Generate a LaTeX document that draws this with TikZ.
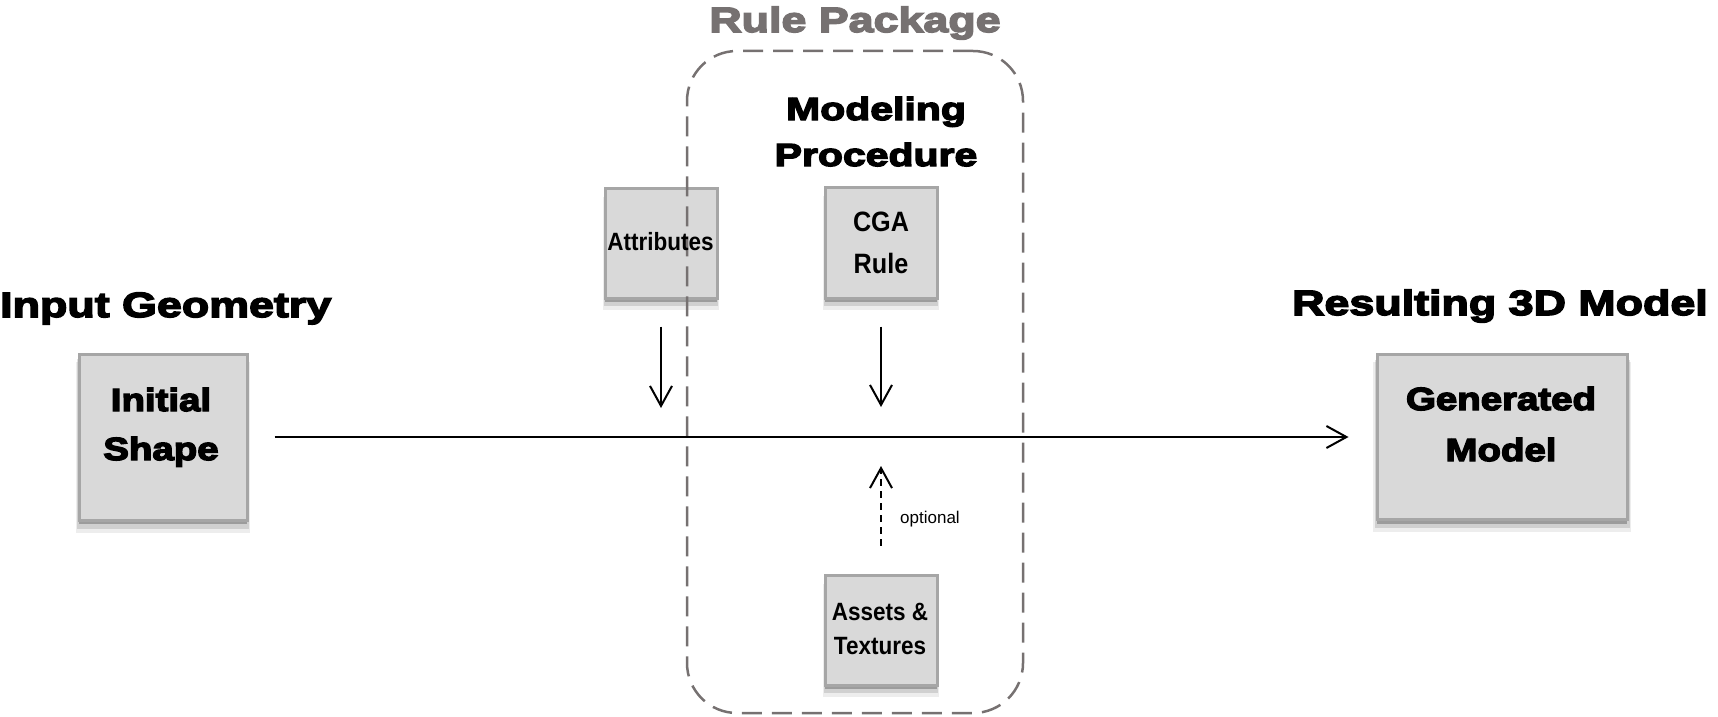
\documentclass[tikz,border=0pt]{standalone}
\usepackage{fontspec}
\setmainfont{Liberation Sans}
\newfontfamily\headfont[FakeStretch=1.28,FakeBold=4.5]{Liberation Sans Bold}
\newfontfamily\boxheadfont[FakeStretch=1.2,FakeBold=4.5]{Liberation Sans Bold}
\newfontfamily\boxfont[FakeStretch=0.9]{Liberation Sans Bold}
\usetikzlibrary{arrows.meta,shadows}
\definecolor{boxfill}{HTML}{D9D9D9}
\definecolor{boxline}{HTML}{A6A6A6}
\definecolor{pkggray}{HTML}{767171}
\begin{document}
\begin{tikzpicture}[x=1pt,y=-1pt,
  box/.style={draw=boxline, line width=3pt, fill=boxfill, inner sep=0pt,
    drop shadow={shadow xshift=0pt, shadow yshift=-10pt, shadow scale=1.03, opacity=0.07, fill=black},
    drop shadow={shadow xshift=0pt, shadow yshift=-7pt, shadow scale=1.02, opacity=0.12, fill=black},
    drop shadow={shadow xshift=0pt, shadow yshift=-4pt, shadow scale=1.0, opacity=0.25, fill=black}},
  head/.style={font=\headfont\fontsize{35}{42}\selectfont, inner sep=0pt},
  bighead/.style={font=\headfont\fontsize{32}{46}\selectfont, inner sep=0pt, align=center},
  bigtxt/.style={font=\boxheadfont\fontsize{32}{49}\selectfont, inner sep=0pt, align=center},
  gentxt/.style={font=\boxheadfont\fontsize{32}{51}\selectfont, inner sep=0pt, align=center},
  smalltxt/.style={font=\boxfont\fontsize{25}{34}\selectfont, inner sep=0pt, align=center},
  cgatxt/.style={font=\boxfont\fontsize{28}{42}\selectfont, inner sep=0pt, align=center},
  arr/.style={line width=2pt, -{Straight Barb[length=20pt,width=22pt]}},
  pkgframe/.style={draw=pkggray, line width=2.5pt, dash pattern=on 20pt off 10pt, rounded corners=50pt}
]
\useasboundingbox (0,0) rectangle (1718,717);

% headings
\node[head, text=pkggray, anchor=base] (pkgT) at (855,32) {Rule Package};
\node[bighead, anchor=base] (modT) at (876,166) {Modeling\\Procedure};
\node[head, anchor=base west] (inT) at (0,317) {Input Geometry};
\node[head, anchor=base east] (outT) at (1708,315) {Resulting 3D Model};

% boxes
\node[box, minimum width=168pt, minimum height=166pt] (init) at (163,437) {};
\node[box, minimum width=250pt, minimum height=165pt] (gen) at (1502,437) {};
\node[box, minimum width=112pt, minimum height=110pt] (attr) at (661,243) {};
\node[box, minimum width=112pt, minimum height=111pt] (cga) at (881,242.5) {};
\node[box, minimum width=112pt, minimum height=110pt] (assets) at (881,630) {};

% rule package frame (drawn over the boxes)
\node[pkgframe, minimum width=336pt, minimum height=662pt, inner sep=0pt] (pkg) at (855,382) {};

% box texts
\node[bigtxt, anchor=base] (initT) at (161,460) {Initial\\Shape};
\node[gentxt, anchor=base] (genT) at (1501,461) {Generated\\Model};
\node[smalltxt, anchor=base] (attrT) at (660.5,250) {Attributes};
\node[cgatxt, anchor=base] (cgaT) at (881,273) {CGA\\Rule};
\node[smalltxt, anchor=base] (assetsT) at (880,654) {Assets \&\\Textures};

% connectors
\coordinate (pA) at (attr.south |- init.east);
\coordinate (pC) at (cga.south |- init.east);
\draw[arr, shorten <=26pt, shorten >=27pt] (init) -- (gen);
\draw[arr, shorten <=27pt, shorten >=29pt] (attr.south) -- (pA);
\draw[arr, shorten <=27pt, shorten >=30pt] (cga.south) -- (pC);
\draw[arr, dash pattern=on 7pt off 5pt, shorten <=28pt, shorten >=29pt] (assets.north) -- (pC);
\node[font=\fontsize{17}{20}\selectfont, anchor=base west, inner sep=0pt] (optT) at (900,523) {optional};
\end{tikzpicture}
\end{document}
